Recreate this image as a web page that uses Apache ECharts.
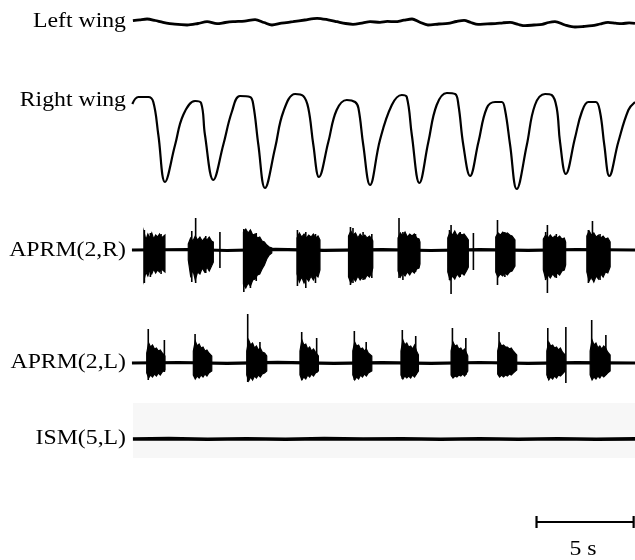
<!DOCTYPE html>
<html><head><meta charset="utf-8">
<script src="https://cdn.jsdelivr.net/npm/echarts@6/dist/echarts.min.js"></script>
<style>html,body{margin:0;padding:0;background:#fff}#c{width:635px;height:560px}</style>
</head><body><div id="c"></div>
<script>
// ---- data (time in s, amplitudes in arbitrary units, positive = up) ----
const channelLabels = ['Left wing', 'Right wing', 'APRM(2,R)', 'APRM(2,L)', 'ISM(5,L)'];
const scaleBarTimes = [20.93, 25.93];
const scaleBarLabel = '5 s';

const leftWing = [[0.15,1.3],[0.5,2.2],[0.88,3],[1.3,1.5],[1.7,-0.3],[2.3,-2.2],[2.94,-3],[3.5,-1.5],[3.97,0.3],[4.48,-1.7],[4.9,-0.5],[5.3,0.3],[5.9,0.9],[6.44,2.3],[6.9,-0.5],[7.31,-3],[7.8,-1.2],[8.39,0.3],[9.0,2.0],[9.63,3.7],[10.2,2.2],[10.66,0.3],[11.1,-1.5],[11.48,-2.3],[12.0,-0.8],[12.36,0.3],[12.87,-0.3],[13.25,0.6],[13.65,0.3],[14.1,1.8],[14.52,3],[14.9,0],[15.34,-3],[15.9,-2],[16.37,-1.3],[16.8,0.5],[17.2,1.7],[17.55,-0.5],[17.92,-2.3],[18.4,-1.8],[18.8,-1.7],[19.2,-0.8],[19.57,-0.3],[20.0,-2.5],[20.34,-3.7],[20.8,-3],[21.22,-2.3],[21.55,-0.5],[21.88,0.3],[22.4,-3],[22.91,-5],[23.35,-4.5],[23.79,-3.7],[24.2,-2],[24.61,-0.3],[25.0,-1.2],[25.33,-1.7],[25.7,-0.8],[26.0,-1.3]];

const rightWing = [[0.12,36],[0.43,43],[0.94,43],[1.20,38],[1.46,5],[1.80,-42],
 [2.32,-5],[2.74,25],[3.35,39],[3.66,37],[3.86,5],[4.29,-40],
 [4.80,-5],[5.24,28],[5.66,44],[6.18,43],[6.35,35],[6.61,-5],[6.95,-48],
 [7.47,-8],[7.89,28],[8.50,46],[8.92,44],[9.18,32],[9.44,-5],[9.73,-37],
 [10.21,-2],[10.64,30],[11.16,40],[11.59,38],[11.76,32],[12.01,-5],[12.36,-45],
 [12.87,0],[13.48,35],[13.99,45],[14.25,43],[14.51,5],[14.90,-43],
 [15.36,-2],[15.79,35],[16.31,47],[16.74,46],[16.91,35],[17.16,-5],[17.51,-36],
 [17.94,-2],[18.37,32],[18.80,38],[19.14,38],[19.31,30],[19.57,-5],[19.91,-49],
 [20.43,-5],[20.85,35],[21.37,46],[21.71,45],[21.97,32],[22.14,-2],[22.44,-34],
 [22.91,2],[23.26,28],[23.60,38],[23.98,38],[24.20,28],[24.42,-5],[24.68,-36],
 [25.14,-2],[25.66,30],[26.00,38]];

const aprmRBaseline = [[0.1,0],[3,0.5],[5,-0.5],[7.5,0.6],[10,-0.4],[13,0.4],[15.5,-0.5],[18,0.4],[20.5,-0.4],[23,0.5],[26,0]];
const aprmRBursts = [
 [[0.72,18,-30],[0.82,10,-22],[0.92,16,-26],[1.02,12,-20],[1.12,17,-24],[1.22,11,-19],[1.32,15,-23],[1.42,13,-20],[1.52,16,-22],[1.62,12,-19],[1.80,15,-22]],
 [[3.00,6,-10],[3.12,12,-26],[3.24,9,-20],[3.36,14,-30],[3.48,10,-22],[3.60,13,-24],[3.72,9,-18],[3.84,12,-22],[3.96,10,-17],[4.08,13,-21],[4.20,9,-16],[4.29,8,-12]],
 [[5.84,18,-34],[5.96,21,-38],[6.08,17,-33],[6.20,20,-36],[6.32,15,-30],[6.44,16,-29],[6.56,12,-25],[6.68,13,-24],[6.80,9,-19],[6.92,8,-15],[7.04,5,-9],[7.17,3,-5],[7.30,2,-3]],
 [[8.60,12,-24],[8.72,17,-32],[8.84,13,-27],[8.96,16,-33],[9.08,12,-28],[9.20,15,-31],[9.32,13,-26],[9.44,16,-30],[9.56,12,-25],[9.68,14,-27],[9.78,10,-20]],
 [[11.25,14,-27],[11.37,19,-33],[11.49,15,-28],[11.61,17,-31],[11.73,12,-26],[11.85,16,-30],[11.97,13,-27],[12.09,15,-29],[12.21,12,-25],[12.33,14,-27],[12.45,11,-22],[12.50,9,-18]],
 [[13.80,12,-21],[13.92,17,-27],[14.04,14,-23],[14.16,18,-26],[14.28,13,-22],[14.40,16,-25],[14.52,14,-21],[14.64,16,-23],[14.76,12,-19],[14.88,11,-18],[14.93,8,-14]],
 [[16.36,12,-22],[16.48,18,-30],[16.60,15,-26],[16.72,19,-29],[16.84,14,-24],[16.96,17,-27],[17.08,15,-23],[17.20,16,-25],[17.32,13,-21],[17.42,10,-17]],
 [[18.83,13,-22],[18.95,17,-27],[19.07,15,-24],[19.19,18,-26],[19.31,16,-23],[19.43,17,-25],[19.55,15,-22],[19.67,14,-21],[19.82,10,-16]],
 [[21.28,11,-20],[21.40,15,-29],[21.52,12,-25],[21.64,15,-28],[21.76,12,-24],[21.88,14,-27],[22.00,12,-23],[22.12,14,-25],[22.24,11,-21],[22.36,12,-20],[22.43,8,-15]],
 [[23.52,14,-22],[23.64,19,-31],[23.76,15,-27],[23.88,17,-32],[24.00,13,-26],[24.12,15,-29],[24.24,12,-24],[24.36,14,-27],[24.48,11,-22],[24.60,12,-23],[24.72,8,-17]]
];
const aprmRSpikes = [[0.74,20,-33],[1.05,17,-27],[1.60,16,-24],[3.18,19,-32],[3.38,32,-33],[3.9,14,-23],[4.63,18,-18],[5.86,21,-42],[6.20,19,-38],[6.5,17,-31],
 [8.62,20,-36],[9.05,18,-38],[9.55,16,-33],[11.35,23,-35],[11.48,22,-33],[12.00,18,-30],[12.45,16,-28],
 [13.85,32,-28],[14.05,18,-30],[14.70,16,-22],[16.45,20,-30],[16.53,25,-44],[17.0,18,-27],[17.68,17,-20],
 [18.92,30,-35],[19.3,18,-27],[21.40,18,-30],[21.49,25,-43],[21.95,16,-28],[23.60,20,-33],[23.81,29,-30],[24.2,16,-30]];

const aprmLBaseline = [[0.1,0],[2.5,0.5],[5,-0.4],[7.6,0.6],[10.5,-0.4],[13,0.4],[15.5,-0.4],[18,0.5],[20.5,-0.4],[23,0.4],[26,0]];
const aprmLBursts = [
 [[0.86,10,-10],[0.96,20,-15],[1.06,16,-12],[1.16,18,-14],[1.26,14,-11],[1.36,15,-13],[1.46,12,-10],[1.56,13,-12],[1.66,10,-9],[1.80,7,-7]],
 [[3.26,12,-12],[3.36,22,-16],[3.46,17,-13],[3.56,19,-15],[3.66,15,-12],[3.76,16,-14],[3.86,12,-11],[3.96,13,-13],[4.06,10,-10],[4.21,7,-8]],
 [[6.01,12,-12],[6.11,23,-18],[6.21,18,-14],[6.31,20,-17],[6.41,15,-13],[6.51,17,-15],[6.61,13,-12],[6.71,15,-14],[6.81,11,-11],[6.93,10,-10],[7.04,7,-8]],
 [[8.75,12,-12],[8.85,23,-17],[8.95,18,-14],[9.05,19,-16],[9.15,14,-12],[9.25,16,-14],[9.35,12,-11],[9.45,14,-13],[9.55,11,-10],[9.70,7,-8]],
 [[11.47,12,-12],[11.57,21,-17],[11.67,17,-14],[11.77,18,-16],[11.87,14,-12],[11.97,15,-14],[12.07,12,-11],[12.17,14,-13],[12.27,10,-10],[12.45,7,-8]],
 [[13.95,12,-12],[14.05,23,-16],[14.15,18,-13],[14.25,20,-15],[14.35,16,-13],[14.45,17,-15],[14.55,14,-12],[14.65,18,-14],[14.75,12,-11],[14.85,8,-8]],
 [[16.53,12,-12],[16.63,21,-15],[16.73,17,-13],[16.83,18,-14],[16.93,14,-12],[17.03,15,-13],[17.13,12,-11],[17.23,14,-13],[17.39,7,-8]],
 [[18.93,12,-11],[19.03,21,-14],[19.13,17,-12],[19.23,18,-14],[19.33,16,-12],[19.43,16,-13],[19.53,14,-11],[19.63,15,-12],[19.73,12,-10],[19.91,8,-7]],
 [[21.46,12,-12],[21.56,21,-17],[21.66,17,-14],[21.76,18,-16],[21.86,15,-13],[21.96,16,-15],[22.06,13,-12],[22.16,15,-13],[22.26,11,-11],[22.40,8,-8]],
 [[23.69,12,-12],[23.79,23,-17],[23.89,18,-14],[23.99,20,-16],[24.09,15,-13],[24.19,17,-15],[24.29,14,-12],[24.39,17,-14],[24.49,15,-12],[24.59,11,-10],[24.72,8,-8]]
];
const aprmLSpikes = [[0.94,34,-17],[1.77,23,-9],[3.35,29,-15],[6.06,49,-19],[6.69,21,-12],[8.84,31,-17],[9.61,25,-10],
 [11.55,32,-17],[12.16,21,-12],[14.02,33,-16],[14.71,27,-12],[16.60,35,-14],[17.29,25,-12],[19.00,31,-13],
 [21.51,35,-15],[22.44,36,-20],[23.77,43,-15],[24.50,28,-12]];

const ism = [[0.15,0],[2,0.4],[4,-0.3],[6,0.3],[8,-0.2],[10,0.4],[12,0],[14,0.3],[16,-0.3],[18,0.2],[20,-0.2],[22,0.3],[24,-0.2],[26,0.1]];
const ismBand = [[0.15,36],[26,-19]];

// ---- layout ----
const T_MAX = 26;
const grids = [
  {top:2,   height:40,  yr:20},
  {top:80,  height:120, yr:60},
  {top:200, height:100, yr:50},
  {top:313, height:100, yr:50},
  {top:399, height:80,  yr:40},
  {top:502, height:40,  yr:20}
];
const labelY = [21, 100, 250, 362, 438];

const chart = echarts.init(document.getElementById('c'), null, {renderer:'canvas'});

function envRender(envs){
  return function(params, api){
    const env = envs[params.dataIndex];
    const up = env.map(p => api.coord([p[0], p[1]]));
    const lo = env.slice().reverse().map(p => api.coord([p[0], p[2]]));
    return {type:'polygon', shape:{points: up.concat(lo)}, style:{fill:'#000', stroke:'#000', lineWidth:1.2}};
  };
}
function spikeRender(params, api){
  const a = api.coord([api.value(0), api.value(1)]);
  const b = api.coord([api.value(0), api.value(2)]);
  return {type:'line', shape:{x1:a[0], y1:a[1], x2:b[0], y2:b[1]}, style:{stroke:'#000', lineWidth:1.6}};
}
function lineSeries(data, gi, width, smooth){
  return {type:'line', xAxisIndex:gi, yAxisIndex:gi, data:data, symbol:'none', smooth:smooth||false,
    lineStyle:{color:'#000', width:width}, silent:true};
}

const series = [
  lineSeries(leftWing, 0, 2.8, 0.3),
  lineSeries(rightWing, 1, 2.2, 0.4),
  lineSeries(aprmRBaseline, 2, 3.2, false),
  {type:'custom', xAxisIndex:2, yAxisIndex:2, renderItem: envRender(aprmRBursts), data: aprmRBursts.map(e => [e[0][0], 0]), silent:true},
  {type:'custom', xAxisIndex:2, yAxisIndex:2, renderItem: spikeRender, data: aprmRSpikes, silent:true},
  lineSeries(aprmLBaseline, 3, 3.2, false),
  {type:'custom', xAxisIndex:3, yAxisIndex:3, renderItem: envRender(aprmLBursts), data: aprmLBursts.map(e => [e[0][0], 0]), silent:true},
  {type:'custom', xAxisIndex:3, yAxisIndex:3, renderItem: spikeRender, data: aprmLSpikes, silent:true},
  Object.assign(lineSeries(ism, 4, 3.6, false), {
    markArea:{silent:true, itemStyle:{color:'#f7f7f7'}, data:[[{xAxis:ismBand[0][0], yAxis:ismBand[0][1]},{xAxis:ismBand[1][0], yAxis:ismBand[1][1]}]]}
  }),
  lineSeries([[scaleBarTimes[0],0],[scaleBarTimes[1],0]], 5, 2.2, false),
  lineSeries([[scaleBarTimes[0],-6],[scaleBarTimes[0],6]], 5, 2.2, false),
  lineSeries([[scaleBarTimes[1],-6],[scaleBarTimes[1],6]], 5, 2.2, false)
];

const graphic = channelLabels.map((t, i) => ({
  type:'text', x:126, y:labelY[i], scaleX:1.08,
  style:{text:t, fill:'#000', font:'22px "Liberation Serif", "Times New Roman", serif', textAlign:'right', textVerticalAlign:'middle'}
}));
graphic.push({type:'text', x:583, y:549, scaleX:1.08,
  style:{text:scaleBarLabel, fill:'#000', font:'22px "Liberation Serif", "Times New Roman", serif', textAlign:'center', textVerticalAlign:'middle'}});

chart.setOption({
  animation:false,
  backgroundColor:'#fff',
  grid: grids.map(g => ({left:130, right:0, top:g.top, height:g.height})),
  xAxis: grids.map((g,i) => ({type:'value', gridIndex:i, min:0, max:T_MAX, show:false})),
  yAxis: grids.map((g,i) => ({type:'value', gridIndex:i, min:-g.yr, max:g.yr, show:false})),
  series: series,
  graphic: graphic
});
</script></body></html>
